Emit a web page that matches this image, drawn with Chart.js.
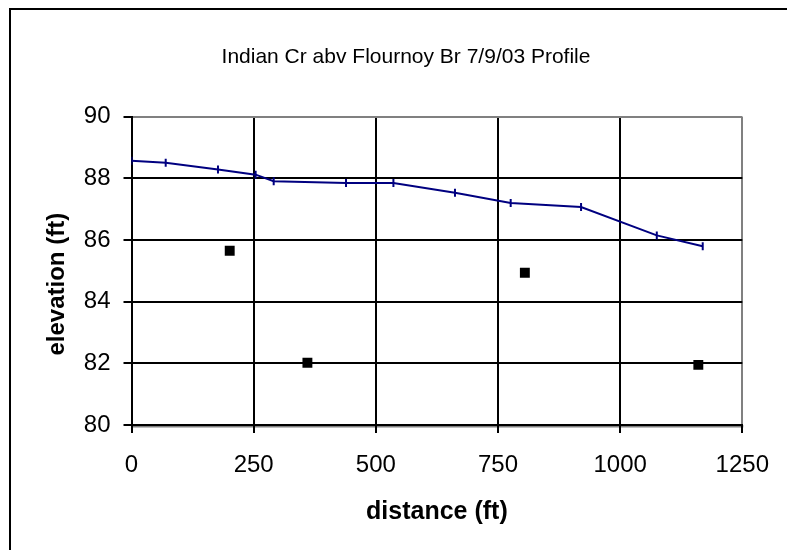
<!DOCTYPE html>
<html>
<head>
<meta charset="utf-8">
<script src="https://cdn.jsdelivr.net/npm/chart.js@4"></script>
<style>
  body { margin: 0; background: #fff; }
  canvas { display: block; }
</style>
</head>
<body>
<canvas id="profile" width="787" height="550"></canvas>
<script>
// water surface profile (blue line with dash markers)
var profileDistance = [0, 70, 177, 254, 291, 439, 536, 662, 776, 920, 1075, 1169];
var profileElevation = [88.57, 88.51, 88.29, 88.12, 87.91, 87.85, 87.85, 87.53, 87.20, 87.07, 86.15, 85.80];

// spot points (black squares)
var pointDistance = [201, 360, 805, 1160];
var pointElevation = [85.65, 82.02, 84.94, 81.95];

var xTicks = [0, 250, 500, 750, 1000, 1250];
var yTicks = [80, 82, 84, 86, 88, 90];

function toXY(xs, ys) {
  var out = [];
  for (var i = 0; i < xs.length; i++) {
    out.push({x: xs[i], y: ys[i]});
  }
  return out;
}

// white background, outer frame, grey shadow under the plot area
var framePlugin = {
  id: 'frame',
  beforeDraw: function(chart) {
    var ctx = chart.ctx;
    ctx.save();
    ctx.fillStyle = '#ffffff';
    ctx.fillRect(0, 0, chart.width, chart.height);
    var a = chart.chartArea;
    ctx.fillStyle = '#808080';
    ctx.fillRect(a.left, a.bottom, a.right - a.left + 1, 2.5);
    ctx.restore();
  },
  afterDraw: function(chart) {
    var ctx = chart.ctx;
    ctx.save();
    ctx.strokeStyle = '#000000';
    ctx.lineWidth = 2;
    ctx.beginPath();
    ctx.moveTo(10, chart.height);
    ctx.lineTo(10, 9);
    ctx.lineTo(chart.width, 9);
    ctx.stroke();
    ctx.restore();
  }
};

var font = 'Liberation Sans, Arial, sans-serif';

document.addEventListener('DOMContentLoaded', function() {
  new Chart(document.getElementById('profile'), {
    type: 'scatter',
    data: {
      datasets: [{
        label: 'profile',
        data: toXY(profileDistance, profileElevation),
        showLine: true,
        borderColor: '#000080',
        borderWidth: 2,
        pointStyle: 'line',
        rotation: 90,
        pointRadius: 4,
        pointBorderColor: '#000080',
        pointBorderWidth: 2,
        order: 2
      }, {
        label: 'points',
        data: toXY(pointDistance, pointElevation),
        showLine: false,
        pointStyle: 'rect',
        pointRadius: 7,
        pointBackgroundColor: '#000000',
        pointBorderColor: '#000000',
        pointBorderWidth: 0,
        order: 1
      }]
    },
    options: {
      responsive: false,
      animation: false,
      events: [],
      layout: {
        padding: {top: 0, right: 0, bottom: 0, left: 25}
      },
      plugins: {
        legend: { display: false },
        tooltip: { enabled: false },
        title: {
          display: true,
          text: 'Indian Cr abv Flournoy Br 7/9/03 Profile',
          color: '#000000',
          font: { family: font, size: 21, weight: 'normal', lineHeight: 1.2 },
          padding: { top: 45, bottom: 46.5 }
        }
      },
      scales: {
        x: {
          type: 'linear',
          min: 0,
          max: 1250,
          afterBuildTicks: function(scale) {
            scale.ticks = xTicks.map(function(v) { return {value: v}; });
          },
          afterFit: function(scale) { scale.height = 125; },
          grid: {
            color: function(ctx) {
              return ctx.tick && ctx.tick.value === 1250 ? '#808080' : '#000000';
            },
            lineWidth: 2,
            tickLength: 8,
            tickColor: '#000000',
            tickWidth: 2
          },
          border: { color: '#000000', width: 2 },
          ticks: {
            color: '#000000',
            padding: 18,
            maxRotation: 0,
            font: { family: font, size: 24 },
            callback: function(value) { return String(value); }
          },
          title: {
            display: true,
            text: 'distance (ft)',
            color: '#000000',
            font: { family: font, size: 25, weight: 'bold', lineHeight: 1.2 },
            padding: { top: 0, bottom: 23 }
          }
        },
        y: {
          type: 'linear',
          min: 80,
          max: 90,
          afterBuildTicks: function(scale) {
            scale.ticks = yTicks.map(function(v) { return {value: v}; });
          },
          afterFit: function(scale) { scale.width = 106.5; },
          grid: {
            color: function(ctx) {
              return ctx.tick && ctx.tick.value === 90 ? '#808080' : '#000000';
            },
            lineWidth: 2,
            tickLength: 8,
            tickColor: '#000000',
            tickWidth: 2
          },
          border: { color: '#000000', width: 2 },
          ticks: {
            color: '#000000',
            padding: 13,
            font: { family: font, size: 24 },
            callback: function(value) { return String(value); }
          },
          title: {
            display: true,
            // trailing spaces nudge the label below the plot centre, as in the original
            text: 'elevation (ft)\u00a0\u00a0\u00a0\u00a0',
            color: '#000000',
            font: { family: font, size: 24, weight: 'bold', lineHeight: 1.2 },
            padding: { top: 18, bottom: 0 }
          }
        },
        // empty right-hand axis that only reserves the margin right of the plot
        yRight: {
          type: 'linear',
          position: 'right',
          afterFit: function(scale) { scale.width = 43; },
          grid: { display: false },
          border: { display: false },
          ticks: { display: false }
        }
      }
    },
    plugins: [framePlugin]
  });
});
</script>
</body>
</html>
